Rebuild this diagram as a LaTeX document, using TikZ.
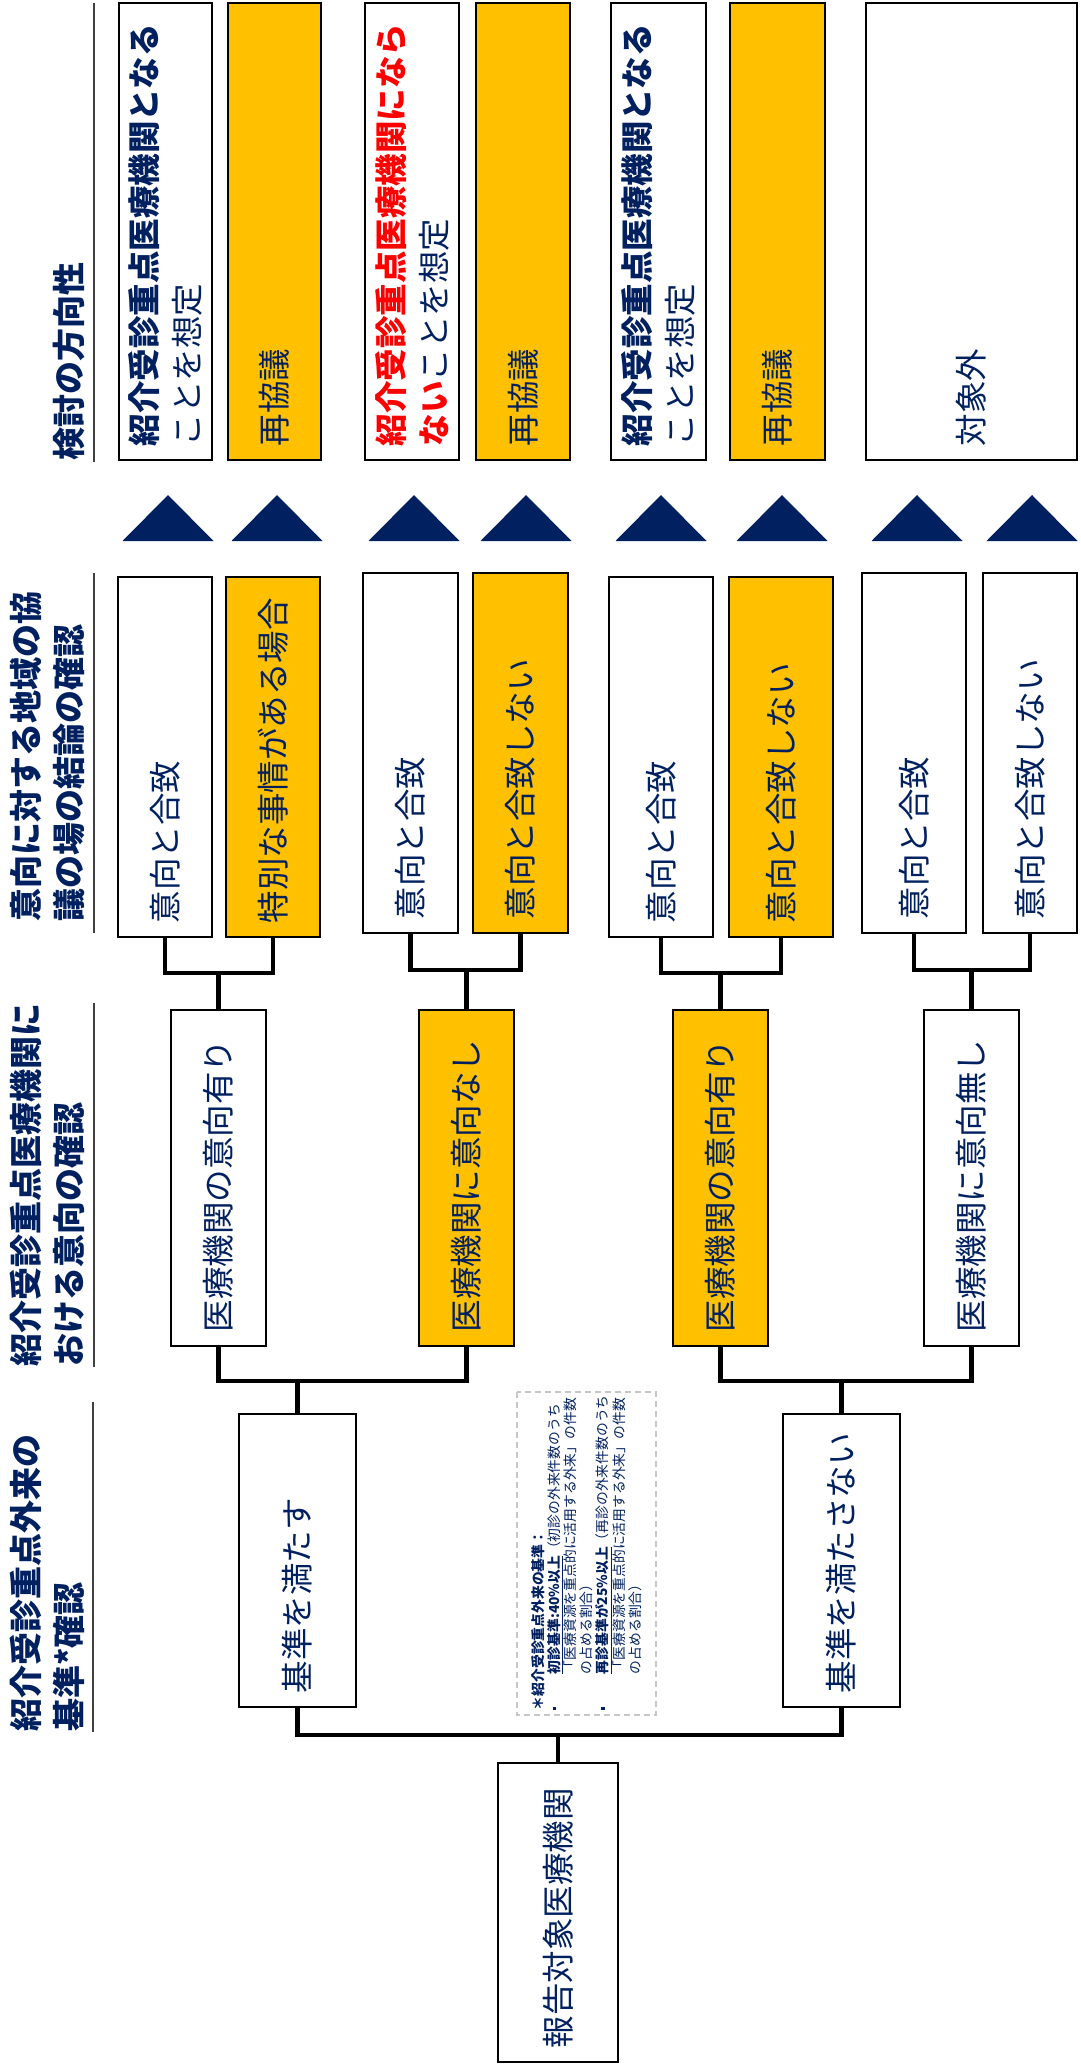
\documentclass[tikz,border=0pt]{standalone}
\usepackage{fontspec}
\setmainfont{Noto Sans CJK JP}
\definecolor{navy}{RGB}{0,32,96}
\definecolor{amber}{RGB}{255,192,0}
\newcommand\boxfont{\fontsize{32.5}{43}\selectfont}
\newcommand\headfont{\fontsize{33}{43}\selectfont\bfseries}
\newcommand\notefont{\fontsize{13.8}{16.2}\selectfont}
\tikzset{
	pics/pointer/.style n args={2}{
		code = {
			\fill[navy] (#1-45.5, #2) -- (#1, #2-46) -- (#1+45.5, #2) -- cycle;
		}
	},
	stage/.style={draw=black, line width=2pt, rotate=90, inner xsep=14pt, inner ysep=0pt, align=left, text=navy, font=\boxfont},
	wbox/.style={stage, fill=white},
	obox/.style={stage, fill=amber},
	lvfive/.style={minimum width=457pt, text width=429pt},
	lvfour/.style={minimum width=360pt, text width=332pt},
	lvthree/.style={minimum width=336pt, text width=308pt},
	lvtwo/.style={minimum width=293pt, text width=265pt},
	lvone/.style={minimum width=299pt, text width=271pt},
	head/.style={rotate=90, anchor=south west, inner sep=0pt, align=left, text=navy, font=\headfont},
	rule/.style={draw=black!75, line width=2pt},
	link/.style={draw=black, line width=4.5pt, line join=miter},
	note/.style={draw=black!22, dashed, line width=1.5pt, dash pattern=on 6pt off 4pt, rotate=90, minimum width=323pt, minimum height=139pt, inner xsep=5pt, inner ysep=0pt, text width=313pt, align=left, text=navy, font=\notefont}
}

\begin{document}
\begin{tikzpicture}[x=1pt, y=-1pt]
	\useasboundingbox (0,0) rectangle (1080,2071);

	% --- headers ---
	\node[head] (hdir) at (85,461) {検討の方向性};
	\node[head] (hres) at (85,922) {意向に対する地域の協\\議の場の結論の確認};
	\node[head] (hint) at (85,1367) {紹介受診重点医療機関に\\おける意向の確認};
	\node[head] (hcrit) at (85,1732) {紹介受診重点外来の\\基準*確認};

	\draw[rule] (94,3) -- (94,462);
	\draw[rule] (94,573) -- (94,933);
	\draw[rule] (94,1003) -- (94,1367);
	\draw[rule] (93,1402) -- (93,1732);

	% --- direction ---
	\node[wbox, lvfive, minimum height=93pt] (dir1) at (165.5,231.5) {\textbf{紹介受診重点医療機関となる}\\ことを想定};
	\node[obox, lvfive, minimum height=93pt] (dir2) at (274.5,231.5) {再協議};
	\node[wbox, lvfive, minimum height=94pt] (dir3) at (412,231.5) {{\color{red}\bfseries 紹介受診重点医療機関になら}\\{\color{red}\bfseries ない}ことを想定};
	\node[obox, lvfive, minimum height=94pt] (dir4) at (523,231.5) {再協議};
	\node[wbox, lvfive, minimum height=95pt] (dir5) at (658.5,231.5) {\textbf{紹介受診重点医療機関となる}\\ことを想定};
	\node[obox, lvfive, minimum height=95pt] (dir6) at (777.5,231.5) {再協議};
	\node[wbox, lvfive, minimum height=211pt] (dir7) at (971.5,231.5) {対象外};

	\pic{pointer={168}{541}};
	\pic{pointer={277}{541}};
	\pic{pointer={414}{541}};
	\pic{pointer={526}{541}};
	\pic{pointer={661}{541}};
	\pic{pointer={782}{541}};
	\pic{pointer={917}{541}};
	\pic{pointer={1032}{541}};

	% --- conclusion of the regional meeting ---
	\node[wbox, lvfour, minimum height=94pt] (res1) at (165,757) {意向と合致};
	\node[obox, lvfour, minimum height=94pt] (res2) at (273,757) {特別な事情がある場合};
	\node[wbox, lvfour, minimum height=95pt] (res3) at (410.5,753) {意向と合致};
	\node[obox, lvfour, minimum height=95pt] (res4) at (520.5,753) {意向と合致しない};
	\node[wbox, lvfour, minimum height=104pt] (res5) at (661,757) {意向と合致};
	\node[obox, lvfour, minimum height=104pt] (res6) at (781,757) {意向と合致しない};
	\node[wbox, lvfour, minimum height=104pt] (res7) at (914,753) {意向と合致};
	\node[wbox, lvfour, minimum height=94pt] (res8) at (1030,753) {意向と合致しない};

	% --- intention of the institution ---
	\node[wbox, lvthree, minimum height=95pt] (int1) at (218.5,1178) {医療機関の意向有り};
	\node[obox, lvthree, minimum height=95pt] (int2) at (466.5,1178) {医療機関に意向なし};
	\node[obox, lvthree, minimum height=95pt] (int3) at (720.5,1178) {医療機関の意向有り};
	\node[wbox, lvthree, minimum height=95pt] (int4) at (971.5,1178) {医療機関に意向無し};

	% --- criteria ---
	\node[wbox, lvtwo, minimum height=117pt] (crit1) at (297.5,1560.5) {基準を満たす};
	\node[wbox, lvtwo, minimum height=117pt] (crit2) at (841.5,1560.5) {基準を満たさない};

	\node[note] (memo) at (586.5,1553.5) {\textbf{＊紹介受診重点外来の基準：}\\
		\makebox[36pt][l]{\raisebox{3pt}{\rule{3.5pt}{3.5pt}}}\underline{\textbf{初診基準:40\%以上}}（初診の外来件数のうち\\
		\hspace*{36pt}「医療資源を重点的に活用する外来」の件数\\
		\hspace*{36pt}の占める割合）\\
		\makebox[36pt][l]{\raisebox{3pt}{\rule{3.5pt}{3.5pt}}}\underline{\textbf{再診基準が25\%以上}}（再診の外来件数のうち\\
		\hspace*{36pt}「医療資源を重点的に活用する外来」の件数\\
		\hspace*{36pt}の占める割合）};

	% --- reported institution ---
	\node[wbox, lvone, minimum height=120pt] (root) at (558,1912.5) {報告対象医療機関};

	% --- links ---
	\coordinate (j1) at (218.5,973);
	\coordinate (j2) at (466.5,970);
	\coordinate (j3) at (720.5,973);
	\coordinate (j4) at (971.5,970);
	\coordinate (k1) at (297.5,1381);
	\coordinate (k2) at (841.5,1381);
	\coordinate (m1) at (558,1735);

	\draw[link] (res1.west) |- (j1) -| (res2.west);
	\draw[link] (j1) -- (int1.east);
	\draw[link] (res3.west) |- (j2) -| (res4.west);
	\draw[link] (j2) -- (int2.east);
	\draw[link] (res5.west) |- (j3) -| (res6.west);
	\draw[link] (j3) -- (int3.east);
	\draw[link] (res7.west) |- (j4) -| (res8.west);
	\draw[link] (j4) -- (int4.east);

	\draw[link] (int1.west) |- (k1) -| (int2.west);
	\draw[link] (k1) -- (crit1.east);
	\draw[link] (int3.west) |- (k2) -| (int4.west);
	\draw[link] (k2) -- (crit2.east);

	\draw[link] (crit1.west) |- (m1) -| (crit2.west);
	\draw[link] (m1) -- (root.east);

\end{tikzpicture}
\end{document}
